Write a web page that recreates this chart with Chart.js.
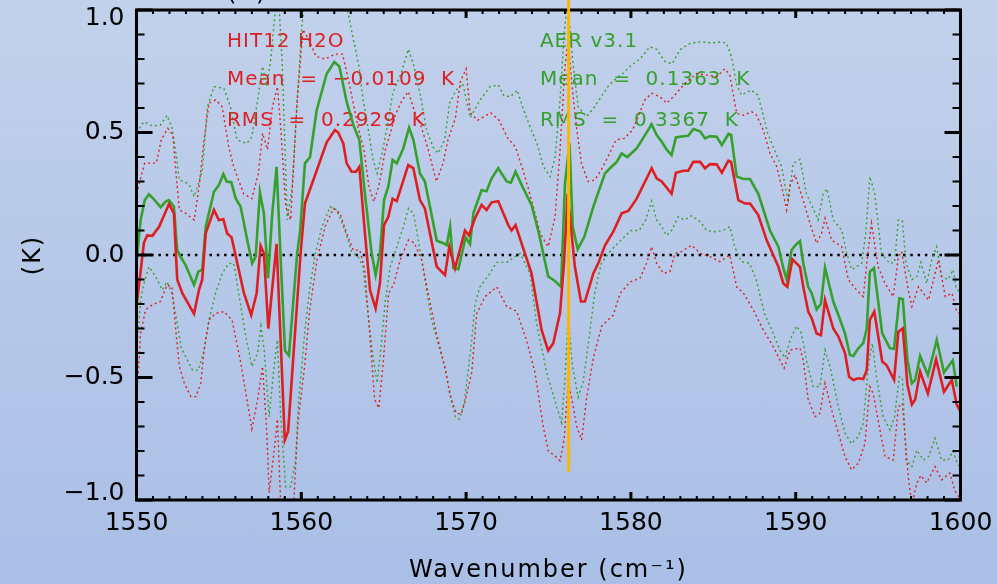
<!DOCTYPE html>
<html>
<head>
<meta charset="utf-8">
<script src="https://cdn.jsdelivr.net/npm/chart.js@4.4.1/dist/chart.umd.min.js"></script>
<style>
  html, body { margin: 0; padding: 0; }
  body { width: 997px; height: 584px; overflow: hidden; background: linear-gradient(#c2d1eb, #aabfe6); }
  canvas { display: block; }
</style>
</head>
<body>
<canvas id="chart" width="997" height="584"></canvas>
<script>
// axis ranges and tick steps
const xRange = [1550, 1600];
const yRange = [-1.0, 1.0];
const xMajor = 10, xMinor = 1;
const yMajor = 0.5, yMinor = 0.1;

// HIT12 H2O residual (red, solid)
const redWn = [1550.0,1550.45,1550.65,1550.96,1551.37,1551.97,1552.27,1552.47,1552.78,1553.49,1553.79,1553.99,1554.2,1554.7,1555.0,1555.27,1555.5,1555.77,1556.52,1556.96,1557.29,1557.53,1557.73,1558.0,1558.5,1559.0,1559.2,1559.95,1560.22,1560.73,1561.54,1562.04,1562.24,1562.55,1562.75,1563.05,1563.32,1563.52,1563.86,1564.17,1564.51,1564.77,1565.02,1565.28,1565.54,1565.79,1566.49,1566.8,1567.2,1567.5,1568.22,1568.72,1568.98,1569.33,1569.93,1570.17,1570.54,1570.94,1571.24,1571.55,1571.95,1572.56,1572.76,1573.0,1573.97,1574.58,1574.98,1575.29,1575.7,1575.94,1576.16,1576.36,1576.6,1576.97,1577.21,1577.72,1578.02,1578.43,1578.93,1579.44,1579.84,1580.35,1581.26,1581.56,1581.87,1582.47,1582.73,1583.18,1583.48,1583.79,1584.2,1584.5,1584.8,1585.2,1585.52,1585.92,1586.08,1586.52,1586.93,1587.23,1587.73,1588.24,1588.95,1589.25,1589.49,1589.8,1590.26,1590.46,1590.76,1590.97,1591.27,1591.53,1591.78,1592.28,1592.59,1592.99,1593.24,1593.5,1593.8,1594.1,1594.31,1594.5,1594.77,1595.25,1595.52,1595.97,1596.23,1596.5,1596.78,1597.05,1597.25,1597.55,1598.02,1598.52,1599.0,1599.47,1599.77,1600.0];
const redK = [-0.21,0.05,0.08,0.078,0.115,0.208,0.17,-0.10,-0.156,-0.24,-0.143,-0.10,0.088,0.184,0.143,0.146,0.088,0.072,-0.156,-0.245,-0.156,0.038,0.007,-0.30,0.045,-0.755,-0.72,0.0,0.21,0.306,0.46,0.51,0.50,0.455,0.375,0.34,0.34,0.36,0.09,-0.143,-0.218,-0.116,0.122,0.156,0.23,0.22,0.367,0.354,0.224,0.19,-0.048,-0.082,0.034,-0.054,0.10,0.08,0.15,0.204,0.184,0.215,0.22,0.122,0.10,0.122,-0.075,-0.306,-0.39,-0.36,-0.237,-0.034,0.25,0.116,-0.048,-0.19,-0.19,-0.075,-0.034,0.04,0.095,0.17,0.18,0.23,0.354,0.313,0.30,0.25,0.336,0.344,0.344,0.38,0.38,0.354,0.371,0.37,0.336,0.385,0.38,0.224,0.21,0.21,0.163,0.06,-0.048,-0.116,-0.13,-0.018,-0.048,-0.13,-0.231,-0.258,-0.32,-0.327,-0.184,-0.30,-0.333,-0.40,-0.497,-0.51,-0.503,-0.506,-0.47,-0.265,-0.231,-0.435,-0.45,-0.51,-0.313,-0.30,-0.53,-0.61,-0.59,-0.476,-0.565,-0.426,-0.558,-0.51,-0.61,-0.64];

// AER v3.1 residual (green, solid)
const greenWn = [1550.0,1550.25,1550.5,1550.76,1551.06,1551.47,1551.77,1551.97,1552.27,1552.47,1552.67,1552.97,1553.49,1553.75,1553.99,1554.2,1554.7,1555.0,1555.27,1555.47,1555.75,1556.02,1556.32,1556.72,1557.02,1557.23,1557.49,1557.73,1557.98,1558.24,1558.5,1558.75,1559.01,1559.25,1559.75,1559.93,1560.22,1560.53,1560.93,1561.54,1562.0,1562.31,1562.75,1563.16,1563.52,1563.86,1564.27,1564.51,1564.77,1565.02,1565.28,1565.54,1565.79,1566.19,1566.54,1566.8,1567.2,1567.5,1568.22,1568.62,1568.82,1569.03,1569.23,1569.53,1569.97,1570.24,1570.44,1570.94,1571.24,1571.55,1571.95,1572.46,1572.72,1573.0,1573.47,1573.97,1574.42,1574.98,1575.39,1575.76,1576.0,1576.27,1576.47,1576.77,1577.18,1577.72,1578.07,1578.43,1578.73,1579.14,1579.44,1579.78,1580.35,1581.26,1581.56,1581.87,1582.17,1582.47,1582.73,1583.18,1583.48,1583.79,1584.2,1584.5,1584.8,1585.2,1585.52,1585.92,1586.08,1586.42,1586.83,1587.23,1587.73,1588.44,1588.95,1589.25,1589.45,1589.75,1590.0,1590.26,1590.46,1590.76,1590.97,1591.27,1591.53,1591.78,1592.28,1592.59,1592.99,1593.29,1593.5,1593.8,1594.1,1594.31,1594.5,1594.75,1595.25,1595.72,1595.97,1596.29,1596.5,1596.78,1597.05,1597.25,1597.55,1598.02,1598.56,1599.0,1599.53,1599.77];
const greenK = [-0.03,0.143,0.224,0.248,0.227,0.195,0.218,0.224,0.197,0.02,-0.007,-0.04,-0.122,-0.068,-0.06,0.116,0.258,0.286,0.33,0.30,0.297,0.231,0.197,0.061,-0.034,-0.007,0.256,0.17,-0.095,0.17,0.36,-0.02,-0.39,-0.41,0.007,0.10,0.374,0.40,0.59,0.74,0.788,0.77,0.626,0.53,0.47,0.25,0.007,-0.082,0.007,0.224,0.28,0.388,0.374,0.435,0.52,0.47,0.333,0.30,0.058,0.048,0.04,0.116,-0.054,-0.058,0.072,0.044,0.17,0.265,0.26,0.313,0.354,0.30,0.295,0.34,0.272,0.204,0.088,-0.088,-0.106,-0.13,0.29,0.456,0.116,0.023,0.075,0.197,0.265,0.333,0.354,0.38,0.415,0.40,0.435,0.533,0.49,0.462,0.43,0.408,0.48,0.485,0.487,0.514,0.505,0.476,0.485,0.483,0.449,0.494,0.49,0.32,0.31,0.31,0.25,0.10,0.034,-0.054,-0.10,0.02,0.041,0.057,-0.034,-0.13,-0.156,-0.222,-0.20,-0.052,-0.19,-0.245,-0.32,-0.408,-0.412,-0.381,-0.36,-0.30,-0.068,-0.054,-0.32,-0.381,-0.383,-0.177,-0.18,-0.43,-0.524,-0.51,-0.412,-0.49,-0.347,-0.48,-0.43,-0.537];

// red spread, upper and lower (dotted)
const redHiWn = [1550.0,1550.5,1551.2,1551.5,1551.9,1552.2,1552.4,1552.6,1553.0,1553.5,1553.8,1554.1,1554.4,1554.8,1555.2,1555.6,1555.9,1556.5,1557.0,1557.4,1557.65,1557.95,1558.25,1558.55,1558.75,1559.05,1559.35,1559.75,1560.1,1560.45,1560.9,1561.45,1562.05,1562.5,1562.95,1563.45,1563.8,1564.1,1564.4,1564.7,1565.1,1565.4,1565.7,1566.1,1566.5,1566.9,1567.3,1567.7,1568.2,1568.6,1568.9,1569.35,1569.65,1570.0,1570.25,1570.7,1571.5,1572.0,1572.5,1573.0,1573.45,1573.97,1574.5,1574.98,1575.4,1575.7,1576.0,1576.2,1576.4,1576.7,1577.0,1577.4,1577.8,1578.2,1578.6,1579.1,1579.6,1580.1,1580.35,1580.85,1581.26,1581.76,1582.17,1582.67,1583.27,1583.98,1584.59,1585.2,1585.7,1586.0,1586.42,1586.83,1587.33,1587.63,1588.03,1588.44,1588.85,1589.25,1589.45,1589.66,1589.96,1590.45,1590.86,1591.27,1591.57,1591.78,1592.18,1592.79,1593.19,1593.7,1594.1,1594.4,1594.6,1595.0,1595.42,1595.92,1596.23,1596.43,1596.83,1597.05,1597.45,1598.06,1598.66,1599.08,1599.48,1599.77,1600.0];
const redHiK = [0.25,0.375,0.375,0.47,0.517,0.49,0.333,0.184,0.17,0.143,0.28,0.47,0.62,0.633,0.605,0.44,0.36,0.25,0.23,0.333,0.497,0.43,0.605,0.687,0.52,0.197,0.143,0.63,0.92,0.88,0.81,0.80,0.82,0.82,0.687,0.52,0.43,0.28,0.218,0.28,0.43,0.497,0.57,0.63,0.667,0.578,0.52,0.43,0.30,0.374,0.47,0.558,0.707,0.76,0.58,0.55,0.58,0.55,0.48,0.44,0.347,0.224,0.088,0.034,0.156,0.43,0.77,0.88,0.71,0.52,0.374,0.30,0.306,0.347,0.40,0.47,0.476,0.51,0.55,0.633,0.66,0.646,0.62,0.653,0.70,0.74,0.735,0.728,0.76,0.735,0.578,0.57,0.585,0.57,0.51,0.415,0.36,0.25,0.184,0.286,0.327,0.224,0.13,0.048,0.088,0.15,0.061,0.034,-0.10,-0.143,-0.17,0.02,0.13,-0.048,-0.116,-0.17,-0.007,0.014,-0.143,-0.21,-0.13,-0.184,-0.02,-0.17,-0.156,-0.231,-0.24];
const redLoWn = [1550.0,1550.25,1550.55,1550.95,1551.45,1551.85,1552.15,1552.4,1552.6,1552.9,1553.3,1553.6,1553.9,1554.1,1554.4,1554.8,1555.3,1555.8,1556.3,1556.7,1557.0,1557.35,1557.65,1557.9,1558.05,1558.35,1558.55,1558.75,1559.0,1559.3,1559.55,1559.8,1560.2,1560.5,1560.95,1561.45,1561.95,1562.35,1562.75,1563.15,1563.55,1563.85,1564.15,1564.45,1564.7,1564.95,1565.3,1565.6,1566.0,1566.5,1566.85,1567.3,1567.7,1568.2,1568.7,1569.1,1569.4,1569.7,1569.93,1570.34,1570.64,1571.15,1571.86,1572.46,1573.07,1573.68,1574.18,1574.68,1574.99,1575.4,1575.7,1575.95,1576.2,1576.45,1576.71,1577.01,1577.32,1577.72,1578.23,1578.93,1579.34,1579.95,1580.55,1580.95,1581.26,1581.56,1581.97,1582.37,1582.67,1583.07,1583.68,1584.2,1584.8,1585.4,1586.0,1586.42,1586.83,1587.43,1588.03,1588.64,1589.05,1589.3,1589.66,1590.26,1590.46,1590.76,1591.17,1591.47,1591.78,1592.18,1592.59,1592.99,1593.39,1593.8,1594.2,1594.5,1594.7,1595.0,1595.42,1595.92,1596.23,1596.47,1596.83,1597.05,1597.35,1597.6,1597.95,1598.45,1598.85,1599.35,1599.65,1600.0];
const redLoK = [-0.605,-0.32,-0.224,-0.204,-0.19,-0.122,-0.13,-0.32,-0.455,-0.523,-0.578,-0.578,-0.523,-0.388,-0.265,-0.238,-0.231,-0.265,-0.43,-0.59,-0.71,-0.59,-0.455,-0.714,-0.97,-0.80,-0.67,-1.02,-1.1,-1.1,-1.0,-0.68,-0.455,-0.23,-0.02,0.116,0.19,0.17,0.088,0.02,0.02,-0.06,-0.32,-0.59,-0.625,-0.455,-0.156,-0.122,-0.02,0.061,0.05,-0.02,-0.156,-0.32,-0.455,-0.59,-0.645,-0.65,-0.60,-0.48,-0.24,-0.17,-0.13,-0.21,-0.23,-0.35,-0.48,-0.70,-0.80,-0.82,-0.84,-0.75,-0.52,-0.60,-0.70,-0.755,-0.58,-0.42,-0.29,-0.245,-0.157,-0.11,-0.095,-0.034,0.034,-0.034,-0.075,-0.068,0.007,0.014,0.04,0.007,-0.007,-0.027,0.0,-0.13,-0.156,-0.224,-0.306,-0.374,-0.43,-0.462,-0.388,-0.38,-0.43,-0.59,-0.66,-0.646,-0.523,-0.633,-0.727,-0.823,-0.877,-0.85,-0.77,-0.537,-0.565,-0.673,-0.823,-0.837,-0.62,-0.605,-0.905,-1.02,-0.93,-0.9,-0.93,-0.864,-0.918,-0.89,-0.96,-1.0];

// green spread, upper and lower (dotted)
const greenHiWn = [1550.0,1550.45,1550.95,1551.45,1551.85,1552.15,1552.4,1552.6,1552.9,1553.2,1553.5,1553.75,1554.0,1554.3,1554.7,1555.3,1555.7,1556.1,1556.7,1557.0,1557.35,1557.65,1557.9,1558.15,1558.45,1558.6,1558.85,1559.15,1559.45,1559.75,1560.05,1560.4,1561.0,1561.6,1562.2,1562.8,1563.1,1563.5,1563.75,1564.05,1564.35,1564.6,1564.95,1565.25,1565.55,1566.05,1566.5,1566.8,1567.2,1567.6,1568.0,1568.3,1568.7,1569.0,1569.4,1569.8,1570.25,1570.85,1571.45,1571.95,1572.3,1572.7,1573.1,1573.5,1573.9,1574.3,1574.7,1575.1,1575.4,1575.7,1575.95,1576.1,1576.3,1576.5,1576.8,1577.3,1577.8,1578.2,1578.6,1579.0,1579.5,1579.95,1580.55,1581.15,1581.55,1582.07,1582.5,1582.97,1583.58,1584.2,1584.9,1585.5,1585.8,1586.1,1586.4,1586.7,1587.3,1587.7,1588.0,1588.3,1588.7,1589.15,1589.4,1589.55,1589.85,1590.26,1590.65,1591.06,1591.36,1591.67,1591.9,1592.28,1592.8,1593.1,1593.4,1594.0,1594.25,1594.5,1594.8,1595.2,1595.7,1596.0,1596.23,1596.47,1596.7,1597.05,1597.35,1597.6,1597.95,1598.25,1598.55,1598.85,1599.25,1599.55,1599.75,1600.0];
const greenHiK = [0.50,0.544,0.527,0.53,0.57,0.52,0.415,0.306,0.30,0.286,0.238,0.29,0.347,0.605,0.687,0.68,0.605,0.47,0.455,0.483,0.633,0.77,0.687,0.80,1.02,1.08,0.77,0.143,0.28,0.633,0.95,1.1,1.15,1.15,1.1,1.0,0.90,0.77,0.633,0.52,0.39,0.333,0.43,0.54,0.66,0.74,0.84,0.78,0.66,0.51,0.44,0.415,0.47,0.62,0.673,0.70,0.56,0.633,0.687,0.694,0.65,0.646,0.673,0.59,0.52,0.455,0.36,0.32,0.40,0.633,0.905,1.0,0.93,0.77,0.605,0.565,0.605,0.646,0.687,0.714,0.74,0.77,0.80,0.85,0.84,0.79,0.78,0.837,0.864,0.87,0.866,0.87,0.864,0.81,0.70,0.653,0.673,0.653,0.578,0.497,0.43,0.36,0.265,0.224,0.374,0.39,0.25,0.19,0.143,0.25,0.27,0.143,0.10,0.007,-0.06,-0.034,0.088,0.32,0.25,0.007,-0.034,-0.03,0.143,0.14,-0.034,-0.10,-0.088,-0.03,-0.116,-0.02,0.034,-0.088,-0.10,-0.06,-0.14,-0.15];
const greenLoWn = [1550.0,1550.25,1550.45,1550.76,1551.16,1551.57,1551.85,1552.15,1552.4,1552.7,1552.98,1553.4,1553.75,1554.1,1554.4,1554.8,1555.2,1555.6,1555.9,1556.2,1556.6,1557.0,1557.35,1557.55,1557.75,1558.05,1558.35,1558.55,1558.75,1559.05,1559.35,1559.65,1559.85,1560.2,1560.5,1560.85,1561.25,1561.75,1562.15,1562.65,1563.05,1563.45,1563.75,1563.95,1564.3,1564.6,1564.8,1565.1,1565.4,1565.8,1566.2,1566.5,1566.8,1567.1,1567.5,1567.9,1568.3,1568.7,1569.0,1569.35,1569.6,1569.9,1570.34,1570.54,1570.84,1571.45,1571.86,1572.46,1573.27,1573.88,1574.28,1574.89,1575.5,1575.8,1576.0,1576.2,1576.45,1576.8,1577.1,1577.5,1577.8,1578.2,1578.8,1579.4,1580.0,1580.5,1580.9,1581.26,1581.56,1581.87,1582.17,1582.47,1582.87,1583.27,1583.68,1584.2,1584.6,1585.1,1585.6,1586.0,1586.3,1586.7,1587.2,1587.6,1588.1,1588.64,1589.05,1589.35,1589.66,1590.05,1590.35,1590.65,1591.06,1591.47,1591.78,1592.08,1592.59,1592.99,1593.39,1593.8,1594.1,1594.4,1594.65,1594.9,1595.3,1595.72,1596.0,1596.29,1596.47,1596.7,1597.05,1597.35,1597.75,1598.06,1598.45,1598.85,1599.25,1599.55,1599.8,1600.0];
const greenLoK = [-0.40,-0.184,-0.116,-0.048,-0.088,-0.143,-0.109,-0.156,-0.252,-0.374,-0.415,-0.47,-0.47,-0.39,-0.265,-0.156,-0.075,-0.034,-0.034,-0.156,-0.32,-0.455,-0.40,-0.29,-0.39,-0.66,-0.455,-0.347,-0.66,-0.946,-0.946,-0.837,-0.59,-0.32,-0.143,0.007,0.116,0.197,0.184,0.10,0.014,-0.007,-0.048,-0.184,-0.39,-0.523,-0.40,-0.184,-0.048,0.034,0.116,0.19,0.17,0.061,-0.10,-0.265,-0.36,-0.455,-0.565,-0.66,-0.67,-0.60,-0.35,-0.20,-0.13,-0.075,-0.03,-0.03,0.007,-0.075,-0.28,-0.48,-0.62,-0.685,-0.5,-0.25,-0.45,-0.58,-0.52,-0.32,-0.156,-0.034,0.02,0.061,0.10,0.10,0.143,0.22,0.143,0.116,0.08,0.10,0.156,0.143,0.16,0.136,0.10,0.095,0.10,0.116,0.034,-0.027,-0.034,-0.10,-0.238,-0.32,-0.39,-0.42,-0.347,-0.29,-0.32,-0.43,-0.537,-0.537,-0.388,-0.455,-0.62,-0.727,-0.77,-0.74,-0.687,-0.455,-0.36,-0.497,-0.66,-0.714,-0.66,-0.497,-0.50,-0.837,-0.864,-0.796,-0.837,-0.823,-0.748,-0.837,-0.837,-0.80,-0.85,-0.87];

// reference line at zero and marker line
const zeroWn = [1550, 1600];
const zeroK = [0, 0];
const markWn = [1576.22, 1576.22];
const markK = [-0.885, 1.05];

// annotation text
const redLabels = ["HIT12 H2O", "Mean  =  \u22120.0109  K", "RMS  =  0.2929  K"];
const greenLabels = ["AER v3.1", "Mean  =  0.1363  K", "RMS  =  0.3367  K"];
const labelRowsK = [0.85, 0.694, 0.527];
const redLabelWn = 1555.49;
const greenLabelWn = 1574.48;
const xTitle = "Wavenumber (cm\u207B\u00B9)";
const yTitle = "(K)";

const RED = "#dd1f22";
const GREEN = "#36a02c";
const ORANGE = "#ffb400";
const FONT = "'DejaVu Sans', sans-serif";

const pts = (xs, ys) => xs.map((x, i) => ({ x: x, y: ys[i] }));
const fmtK = (v) => v.toFixed(1).replace("-", "\u2212");

const solid = (data, color, order) => ({
  data: data, borderColor: color, borderWidth: 2.6, pointRadius: 0, order: order
});
const dotted = (data, color, order) => ({
  data: data, borderColor: color, borderWidth: 1.4, borderDash: [2, 3], pointRadius: 0, order: order
});

// keep the plot box where the original has it: no extra room for edge labels
const noEdgePadding = (s) => {
  s.paddingTop = 0; s.paddingBottom = 0; s.paddingLeft = 0; s.paddingRight = 0;
};

const framePlugin = {
  id: "frame",
  beforeDatasetsDraw(chart) {
    const ctx = chart.ctx;
    const a = chart.chartArea;
    const xs = chart.scales.x, ys = chart.scales.y;
    ctx.save();
    // annotations sit under the data, as in the original
    ctx.font = "20px " + FONT;
    ctx.letterSpacing = "1px";
    ctx.textAlign = "left";
    ctx.textBaseline = "alphabetic";
    labelRowsK.forEach((k, i) => {
      ctx.fillStyle = RED;
      ctx.fillText(redLabels[i], xs.getPixelForValue(redLabelWn), ys.getPixelForValue(k));
      ctx.fillStyle = GREEN;
      ctx.fillText(greenLabels[i], xs.getPixelForValue(greenLabelWn), ys.getPixelForValue(k));
    });
    // y tick labels; the end labels are pulled inside the box like the original
    ctx.fillStyle = "#000";
    ctx.letterSpacing = "0px";
    ctx.font = "25px " + FONT;
    ctx.textAlign = "right";
    ctx.textBaseline = "middle";
    ys.ticks.forEach((t) => {
      let py = ys.getPixelForValue(t.value);
      if (t.value === yRange[1]) py += 8;
      if (t.value === yRange[0]) py -= 7;
      ctx.fillText(fmtK(t.value), a.left - 12, py);
    });
    // axis titles
    ctx.font = "24px " + FONT;
    ctx.letterSpacing = "2px";
    ctx.textAlign = "center";
    ctx.textBaseline = "alphabetic";
    ctx.fillText(xTitle, (a.left + a.right) / 2, 577);
    // clipped title of the panel above
    ctx.textAlign = "left";
    ctx.fillText(yTitle, xs.getPixelForValue(redLabelWn), 0);
    ctx.save();
    ctx.translate(40, (a.top + a.bottom) / 2);
    ctx.rotate(-Math.PI / 2);
    ctx.textAlign = "center";
    ctx.fillText(yTitle, 0, 0);
    ctx.restore();
    ctx.restore();
  },
  beforeDatasetDraw(chart, args) {
    if (args.index !== 0) return; // draw the frame just before the marker line
    const ctx = chart.ctx;
    const a = chart.chartArea;
    const xs = chart.scales.x, ys = chart.scales.y;
    ctx.save();
    ctx.strokeStyle = "#000";
    ctx.lineCap = "butt";
    for (let v = xRange[0]; v <= xRange[1] + 1e-6; v += xMinor) {
      const px = xs.getPixelForValue(v);
      const major = Math.abs(v % xMajor) < 1e-6;
      const len = major ? 8 : 4;
      ctx.lineWidth = major ? 3 : 2;
      ctx.beginPath();
      ctx.moveTo(px, a.bottom); ctx.lineTo(px, a.bottom - len);
      ctx.moveTo(px, a.top); ctx.lineTo(px, a.top + len);
      ctx.stroke();
    }
    const n = Math.round((yRange[1] - yRange[0]) / yMinor);
    const per = Math.round(yMajor / yMinor);
    for (let i = 0; i <= n; i++) {
      const py = ys.getPixelForValue(yRange[0] + i * yMinor);
      const major = i % per === 0;
      const len = major ? 16 : 8;
      ctx.lineWidth = major ? 3 : 2;
      ctx.beginPath();
      ctx.moveTo(a.left, py); ctx.lineTo(a.left + len, py);
      ctx.moveTo(a.right, py); ctx.lineTo(a.right - len, py);
      ctx.stroke();
    }
    ctx.lineWidth = 3;
    ctx.strokeRect(a.left, a.top, a.right - a.left, a.bottom - a.top);
    ctx.restore();
  }
};

const ctx = document.getElementById("chart").getContext("2d");
new Chart(ctx, {
  type: "line",
  data: {
    datasets: [
      { data: pts(markWn, markK), borderColor: ORANGE, borderWidth: 3, pointRadius: 0, clip: false, order: 0 },
      solid(pts(redWn, redK), RED, 1),
      solid(pts(greenWn, greenK), GREEN, 2),
      dotted(pts(redHiWn, redHiK), RED, 3),
      dotted(pts(redLoWn, redLoK), RED, 4),
      dotted(pts(greenHiWn, greenHiK), GREEN, 5),
      dotted(pts(greenLoWn, greenLoK), GREEN, 6),
      { data: pts(zeroWn, zeroK), borderColor: "#000", borderWidth: 2.5, borderDash: [2.5, 4.8], pointRadius: 0, order: 7 }
    ]
  },
  options: {
    responsive: false,
    animation: false,
    layout: { padding: { top: 10, right: 36.5, left: 0, bottom: 0 } },
    plugins: { legend: { display: false }, tooltip: { enabled: false } },
    scales: {
      x: {
        type: "linear",
        min: xRange[0],
        max: xRange[1],
        afterFit: (s) => { s.height = 84; noEdgePadding(s); },
        grid: { display: false, drawTicks: false },
        border: { display: false },
        ticks: {
          stepSize: xMajor,
          padding: 8,
          color: "#000",
          font: { family: FONT, size: 25 },
          maxRotation: 0,
          callback: (v) => String(v)
        }
      },
      y: {
        min: yRange[0],
        max: yRange[1],
        afterFit: (s) => { s.width = 136.5; noEdgePadding(s); },
        grid: { display: false, drawTicks: false },
        border: { display: false },
        ticks: { stepSize: yMajor, display: false }
      }
    }
  },
  plugins: [framePlugin]
});
</script>
</body>
</html>
